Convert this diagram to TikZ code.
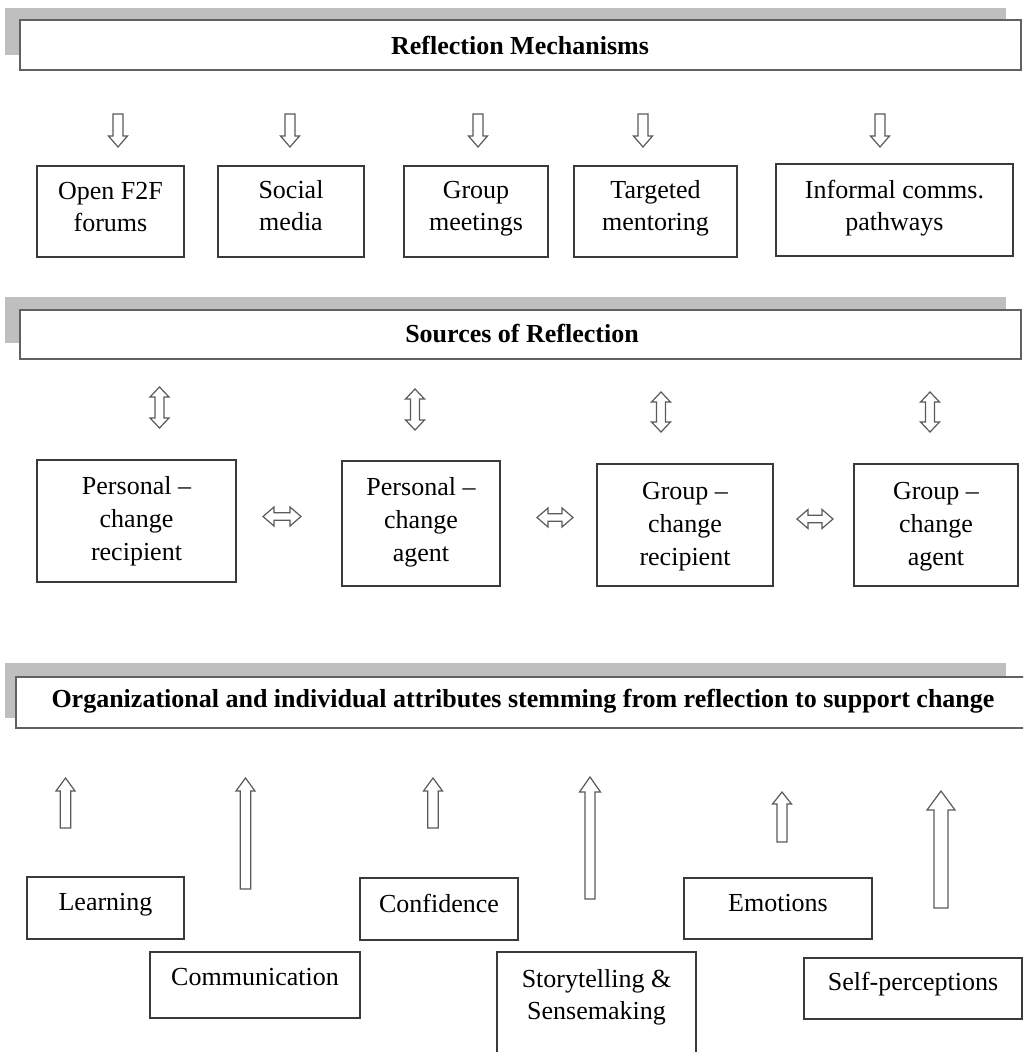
\documentclass[tikz,border=0pt]{standalone}
\usepackage{fontspec}
\setmainfont{Liberation Serif}
\definecolor{boxc}{HTML}{3A3A3A}
\definecolor{arrc}{HTML}{5A5A5A}
\definecolor{shadowc}{HTML}{BFBFBF}
\tikzset{
  box/.style={draw=boxc, line width=1.4pt, fill=white, inner sep=0pt},
  hdr/.style={draw=boxc!80, line width=1.8pt, fill=white, inner sep=0pt},
  shade/.style={fill=shadowc, draw=none},
  txt/.style={font=\fontsize{26}{32}\selectfont, align=center, inner sep=0pt, text=black, text depth=6pt},
  txtb/.style={txt, font=\fontsize{26}{33}\selectfont},
  htxt/.style={font=\bfseries\fontsize{26}{30}\selectfont, inner sep=0pt, text=black},
  blk/.style={draw=arrc, line width=1.2pt, fill=white, line join=miter},
}
% cx, ytop, ybot, half shaft, half head, head length
\newcommand\arrUp[6]{\draw[blk] (#1,#2) -- (#1+#5,#2+#6) -- (#1+#4,#2+#6) -- (#1+#4,#3) -- (#1-#4,#3) -- (#1-#4,#2+#6) -- (#1-#5,#2+#6) -- cycle;}
\newcommand\arrDown[6]{\draw[blk] (#1,#3) -- (#1+#5,#3-#6) -- (#1+#4,#3-#6) -- (#1+#4,#2) -- (#1-#4,#2) -- (#1-#4,#3-#6) -- (#1-#5,#3-#6) -- cycle;}
\newcommand\arrUD[6]{\draw[blk] (#1,#2) -- (#1+#5,#2+#6) -- (#1+#4,#2+#6) -- (#1+#4,#3-#6) -- (#1+#5,#3-#6) -- (#1,#3) -- (#1-#5,#3-#6) -- (#1-#4,#3-#6) -- (#1-#4,#2+#6) -- (#1-#5,#2+#6) -- cycle;}
% xl, xr, cy, half shaft, half head, head length
\newcommand\arrLR[6]{\draw[blk] (#1,#3) -- (#1+#6,#3-#5) -- (#1+#6,#3-#4) -- (#2-#6,#3-#4) -- (#2-#6,#3-#5) -- (#2,#3) -- (#2-#6,#3+#5) -- (#2-#6,#3+#4) -- (#1+#6,#3+#4) -- (#1+#6,#3+#5) -- cycle;}
\begin{document}
\begin{tikzpicture}[x=1pt,y=-1pt]
\useasboundingbox (0,0) rectangle (1023,1052);
\clip (0,0) rectangle (1023,1052);
\fill[white] (0,0) rectangle (1023,1052);

% ---------- Header 1 ----------
\fill[shade] (5,8) rectangle (1006,55);
\node[hdr, minimum width=1001pt, minimum height=50pt] (h1) at (520.5,45) {};
\node[htxt] (h1t) at (520,45) {Reflection Mechanisms};

\arrDown{118}{114}{147}{5}{9.5}{11}
\arrDown{290}{114}{147}{5}{9.5}{11}
\arrDown{478}{114}{147}{5}{9.5}{11}
\arrDown{643}{114}{147}{5}{9.5}{11}
\arrDown{880}{114}{147}{5}{9.5}{11}

\node[box, minimum width=147pt, minimum height=91pt, label={[txt,yshift=2pt]center:Open F2F\\forums}] (f2f) at (110.5,211.5) {};
\node[box, minimum width=146pt, minimum height=91pt, label={[txt,yshift=3pt]center:Social\\media}] (soc) at (291,211.5) {};
\node[box, minimum width=144pt, minimum height=91pt, label={[txt,yshift=3pt]center:Group\\meetings}] (grp) at (476,211.5) {};
\node[box, minimum width=163pt, minimum height=91pt, label={[txt,yshift=3pt]center:Targeted\\mentoring}] (tgt) at (655.5,211.5) {};
\node[box, minimum width=237pt, minimum height=92pt, label={[txt,yshift=2pt]center:Informal comms.\\pathways}] (inf) at (894.5,210) {};

% ---------- Header 2 ----------
\fill[shade] (5,297) rectangle (1006,343);
\node[hdr, minimum width=1001pt, minimum height=49pt] (h2) at (520.5,334.5) {};
\node[htxt] (h2t) at (522,334) {Sources of Reflection};

\arrUD{159.5}{387}{428}{4.5}{9.5}{10}
\arrUD{415}{389}{430}{4.5}{9.5}{10}
\arrUD{661}{392}{432}{4.5}{9.5}{10}
\arrUD{930}{392}{432}{4.5}{9.5}{10}

\node[box, minimum width=199pt, minimum height=122pt, label={[txtb,yshift=0pt]center:Personal --\\change\\recipient}] (pr) at (136.5,521) {};
\node[box, minimum width=158pt, minimum height=125pt, label={[txtb,yshift=1pt]center:Personal --\\change\\agent}] (pa) at (421,523.5) {};
\node[box, minimum width=176pt, minimum height=122pt, label={[txtb,yshift=-2pt]center:Group --\\change\\recipient}] (gr) at (685,525) {};
\node[box, minimum width=164pt, minimum height=122pt, label={[txtb,yshift=-2pt]center:Group --\\change\\agent}] (ga) at (936,525) {};

\arrLR{263}{301}{516.5}{3.8}{9.5}{11}
\arrLR{537}{573}{517.5}{3.8}{9.5}{11}
\arrLR{797}{833}{519}{3.8}{9.5}{11}

% ---------- Header 3 ----------
\fill[shade] (5,663) rectangle (1006,718);
\node[hdr, minimum width=1020pt, minimum height=51pt] (h3) at (526,702.5) {};
\node[htxt] (h3t) at (523,701) {Organizational and individual attributes stemming from reflection to support change};

\arrUp{65.5}{778}{828}{5.3}{9.5}{13}
\arrUp{245.5}{778}{889}{5.3}{9.5}{13}
\arrUp{433}{778}{828}{5.3}{9.5}{13}
\arrUp{590}{777}{899}{5}{10.5}{15}
\arrUp{782}{792}{842}{5}{9.5}{12}
\arrUp{941}{791}{908}{7}{14}{19}

\node[box, minimum width=157pt, minimum height=62pt, label={[txt,yshift=3pt]center:Learning}] (lrn) at (105.5,908) {};
\node[box, minimum width=210pt, minimum height=66pt, label={[txt,yshift=5pt]center:Communication}] (com) at (255,985) {};
\node[box, minimum width=158pt, minimum height=62pt, label={[txt,yshift=3pt]center:Confidence}] (cnf) at (439,909) {};
\node[box, minimum width=199pt, minimum height=108pt, label={[txt,yshift=9pt]center:Storytelling \&\\Sensemaking}] (sty) at (596.5,1006) {};
\node[box, minimum width=188pt, minimum height=61pt, label={[txt,yshift=2.5pt]center:Emotions}] (emo) at (778,908.5) {};
\node[box, minimum width=218pt, minimum height=61pt, label={[txt,yshift=4.5pt]center:Self-perceptions}] (slf) at (913,988.5) {};
\end{tikzpicture}
\end{document}
